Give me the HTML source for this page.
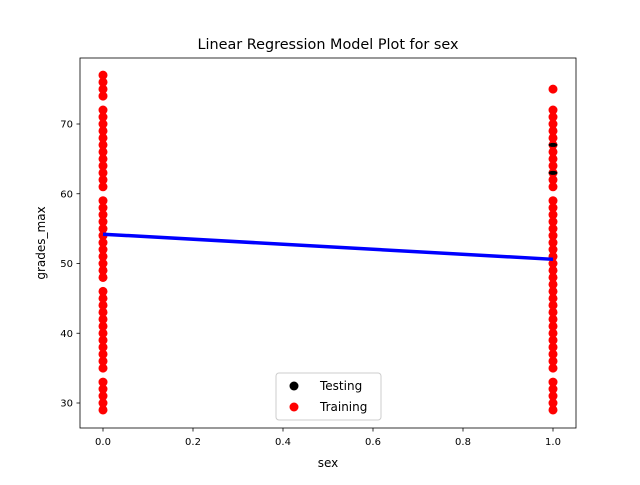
<!DOCTYPE html>
<html><head><meta charset="utf-8"><style>
body{margin:0;background:#fff;font-family:"Liberation Sans","DejaVu Sans",sans-serif}
</style></head><body>
<svg id="chart" width="640" height="480" xmlns="http://www.w3.org/2000/svg" font-family="DejaVu Sans, Liberation Sans, sans-serif">
<rect width="640" height="480" fill="#fff"/>
<text x="328" y="49" font-size="14.4" text-anchor="middle">Linear Regression Model Plot for sex</text>
<g id="points"></g>
<g id="axes"></g>
<text x="328" y="467" font-size="12" text-anchor="middle">sex</text>
<text transform="translate(45,243) rotate(-90)" font-size="12" text-anchor="middle">grades_max</text>
<g>
<rect x="276" y="373" width="105" height="47" rx="3" fill="#fff" stroke="#ccc"/>
<circle cx="294" cy="386" r="4.5" fill="#000"/>
<text x="320" y="390" font-size="12">Testing</text>
<circle cx="294" cy="407" r="4.5" fill="red"/>
<text x="320" y="411" font-size="12">Training</text>
</g>
</svg>
<script>
const trainX0 = [29,30,31,32,33,35,36,37,38,39,40,41,42,43,44,45,46,48,49,50,51,52,53,54,55,56,57,58,59,61,62,63,64,65,66,67,68,69,70,71,72,74,75,76,77];
const trainX1 = [29,30,31,32,33,35,36,37,38,39,40,41,42,43,44,45,46,47,48,49,50,51,52,53,54,55,56,57,58,59,61,62,63,64,65,66,67,68,69,70,71,72,75];
const testX1 = [63,67];
const lineY = [54.2,50.6];
const xTicks = [0,0.2,0.4,0.6,0.8,1.0];
const yTicks = [30,40,50,60,70];
const L=80,R=576,T=58,B=428;
const sx=v=>103+v*450, sy=v=>403-(v-30)*6.975;
const NS="http://www.w3.org/2000/svg";
const pts=document.getElementById('points'), ax=document.getElementById('axes');
function mk(tag,attrs,parent){const e=document.createElementNS(NS,tag);for(const k in attrs)e.setAttribute(k,attrs[k]);parent.appendChild(e);return e;}
trainX0.forEach(v=>{const c=mk('circle',{cx:sx(0),cy:sy(v),r:4.5,fill:'red'},pts);

});
trainX1.forEach(v=>{const c=mk('circle',{cx:sx(1),cy:sy(v),r:4.5,fill:'red'},pts);

});
testX1.forEach(v=>{const c=mk('ellipse',{cx:sx(1),cy:sy(v),rx:4.5,ry:2,fill:'#000'},pts);

});
const ln=mk('line',{x1:sx(0),y1:sy(lineY[0]),x2:sx(1),y2:sy(lineY[1]),stroke:'blue','stroke-width':3.5},pts);


const fr=mk('rect',{x:L,y:T,width:R-L,height:B-T,fill:'none',stroke:'#000','stroke-width':0.8},ax);


xTicks.forEach(v=>{mk('line',{x1:sx(v),x2:sx(v),y1:B,y2:B+3.5,stroke:'#000','stroke-width':0.8},ax);
const t=mk('text',{x:sx(v),y:B+17,'font-size':10,'text-anchor':'middle'},ax);t.textContent=v.toFixed(1);

});
yTicks.forEach(v=>{mk('line',{x1:L,x2:L-3.5,y1:sy(v),y2:sy(v),stroke:'#000','stroke-width':0.8},ax);
const t=mk('text',{x:L-7,y:sy(v)+3.5,'font-size':10,'text-anchor':'end'},ax);t.textContent=v;

});
</script>
</body></html>
